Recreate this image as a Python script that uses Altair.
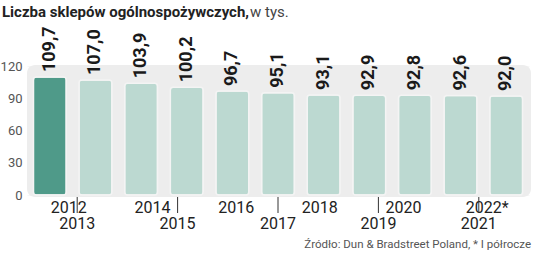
import altair as alt
import pandas as pd

years = ["2012", "2013", "2014", "2015", "2016", "2017", "2018", "2019", "2020", "2021", "2022*"]
values = [109.7, 107.0, 103.9, 100.2, 96.7, 95.1, 93.1, 92.9, 92.8, 92.6, 92.0]
labels = ["109,7", "107,0", "103,9", "100,2", "96,7", "95,1", "93,1", "92,9", "92,8", "92,6", "92,0"]
y_ticks = [0, 30, 60, 90, 120]

title_bold = "Liczba sklepów ogólnospożywczych,"
title_reg = "w tys."
source = "Źródło: Dun & Bradstreet Poland, * I półrocze"

W, H = 502, 129
FONT = "Roboto"

df = pd.DataFrame({
    "year": years,
    "value": values,
    "label": labels,
    "idx": list(range(len(years))),
})

xenc = alt.X("year:N", sort=years, axis=None,
             scale=alt.Scale(paddingInner=0.28, paddingOuter=0.14))
yscale = alt.Scale(domain=[0, 120], nice=False)
yaxis = alt.Axis(values=y_ticks, title=None, domain=False, ticks=False,
                 grid=True, gridColor="#f7f7f7", gridWidth=1,
                 labelColor="#555", labelFontSize=13, labelFont=FONT, labelPadding=5)

base = alt.Chart(df)

bg = base.mark_rect(fill="#ededed", cornerRadius=8).encode(
    x=alt.value(0), x2=alt.value(W + 2), y=alt.value(-1), y2=alt.value(H + 2)
).transform_filter("datum.idx == 0")

bars = base.mark_bar(cornerRadius=3, stroke="#f4f4f4", strokeWidth=1.5).encode(
    x=xenc,
    y=alt.Y("value:Q", scale=yscale, axis=yaxis),
    color=alt.condition("datum.idx == 0", alt.value("#4f9a89"), alt.value("#bcd9d1")),
)

n = len(years)
vlabels = base.transform_calculate(rot="270").mark_text(
    align="left", baseline="middle", dx=5,
    fontWeight="bold", fontSize=18, font=FONT, color="#1a1a1a"
).encode(
    x=alt.X("idx:Q", axis=None,
            scale=alt.Scale(domain=[-0.5, n - 0.5], nice=False, zero=False)),
    y=alt.Y("value:Q", scale=yscale, axis=yaxis),
    text="label:N",
    angle=alt.Angle("rot:Q", scale=None),
)

xl_even = base.mark_text(baseline="middle", font=FONT, fontSize=16, color="#222").encode(
    x=xenc, y=alt.value(H + 13), text="year:N"
).transform_filter("datum.idx % 2 == 0")

xl_odd = base.mark_text(baseline="middle", font=FONT, fontSize=16, color="#222").encode(
    x=xenc, y=alt.value(H + 29), text="year:N"
).transform_filter("datum.idx % 2 == 1")

ticks = base.mark_rule(color="#333", strokeWidth=1).encode(
    x=xenc, y=alt.value(H + 2), y2=alt.value(H + 18)
).transform_filter("datum.idx % 2 == 1")

t1 = alt.Chart(pd.DataFrame({"t": [title_bold]})).mark_text(
    align="left", baseline="middle", font=FONT, fontWeight="bold", fontSize=15, color="#222"
).encode(x=alt.value(-25), y=alt.value(-54), text="t:N")

t2 = alt.Chart(pd.DataFrame({"t": [title_reg]})).mark_text(
    align="left", baseline="middle", font=FONT, fontSize=15, color="#444"
).encode(x=alt.value(223), y=alt.value(-54), text="t:N")

src = alt.Chart(pd.DataFrame({"t": [source]})).mark_text(
    align="right", baseline="middle", font=FONT, fontSize=11.5, color="#555"
).encode(x=alt.value(W + 2), y=alt.value(H + 50), text="t:N")

chart = alt.layer(bg, bars, xl_even, xl_odd, ticks, t1, t2, src, vlabels).resolve_scale(
    x="independent"
).properties(
    width=W, height=H,
    autosize=alt.AutoSizeParams(type="none"),
    padding={"left": 27, "top": 66, "right": 7, "bottom": 58},
).configure_view(stroke=None)

chart.save("out.html", embed_options={"renderer": "svg", "actions": False})
